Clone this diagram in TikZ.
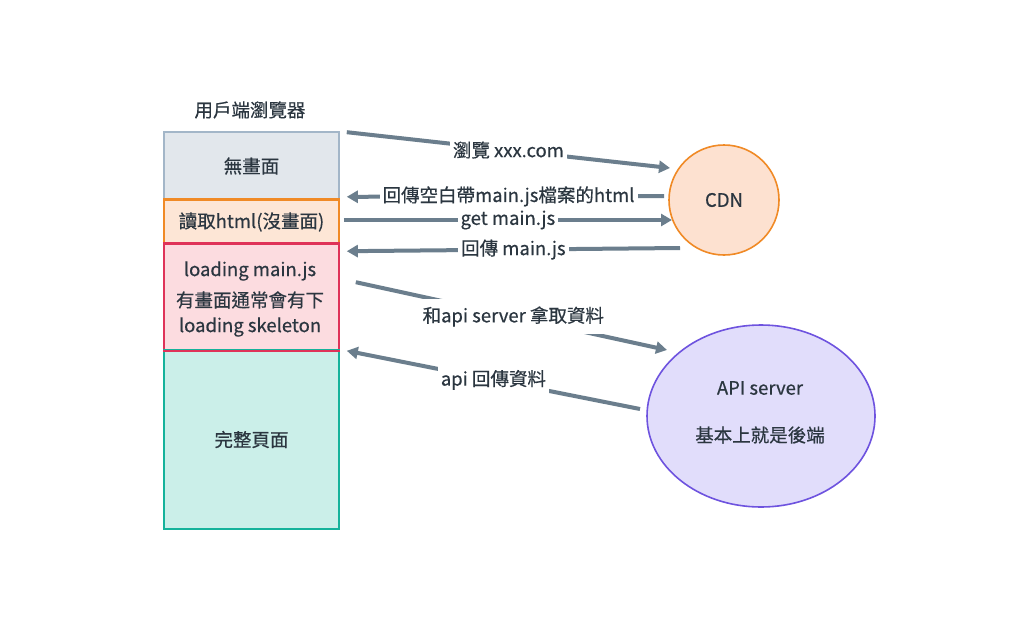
\documentclass[tikz,border=0pt]{standalone}
\usepackage{fontspec}
\setmainfont{Noto Sans CJK TC}[BoldFont={Noto Sans CJK TC},BoldFeatures={FakeBold=0.5}]
\usetikzlibrary{arrows.meta,calc,shapes.geometric}
\definecolor{txt}{HTML}{2B3640}
\definecolor{arrc}{HTML}{6B7E8D}
\definecolor{gfill}{HTML}{E2E7EC}
\definecolor{gline}{HTML}{A3B6C8}
\definecolor{ofill}{HTML}{FDE6D6}
\definecolor{oline}{HTML}{F08A26}
\definecolor{pfill}{HTML}{FCDCE0}
\definecolor{pline}{HTML}{DF3359}
\definecolor{tfill}{HTML}{CBEFE9}
\definecolor{tline}{HTML}{15B29B}
\definecolor{cfill}{HTML}{FDE1D0}
\definecolor{afill}{HTML}{E1DDFB}
\definecolor{aline}{HTML}{6E53DF}
\tikzset{
  box/.style={rectangle, line width=1.6pt, minimum width=175pt, inner sep=0pt, text=txt, align=center},
  arr/.style={line width=4pt, color=arrc, -{Triangle[length=11pt,width=12pt]}},
  lbl/.style={fill=white, text=txt, inner sep=3pt},
  every node/.append style={font=\fontsize{18.5}{22}\selectfont\bfseries}
}
\begin{document}
\begin{tikzpicture}[x=1pt,y=-1pt]
\useasboundingbox[fill=white] (0,0) rectangle (1024,640);
\node[text=txt] (title) at (250,110) {用戶端瀏覽器};
\node[box, draw=gline, fill=gfill, minimum height=68pt] (b1) at (251.5,166) {無畫面};
\node[box, draw=oline, fill=ofill, minimum height=44pt] (b2) at (251.5,222) {讀取html(沒畫面)};
\node[box, draw=pline, fill=pfill, minimum height=106pt] (b3) at (251.5,297) {};
\node[box, draw=tline, fill=tfill, minimum height=179pt] (b4) at (251.5,439.5) {完整頁面};
\draw[draw=oline, line width=1.6pt] (b2.north west) -- (b2.north east);
\draw[draw=pline, line width=1.6pt] (b3.north west) -- (b3.north east);
\draw[draw=pline, line width=1.6pt] (b3.south west) -- (b3.south east);
\node[text=txt] (l1) at (250,271) {loading main.js};
\node[text=txt] (l2) at (250,300) {有畫面通常會有下};
\node[text=txt] (l3) at (250,327) {loading skeleton};
\node[circle, draw=oline, fill=cfill, line width=1.6pt, minimum size=110pt, inner sep=0pt, text=txt] (cdn) at (724,200) {CDN};
\node[ellipse, draw=aline, fill=afill, line width=1.6pt, minimum width=228pt, minimum height=182pt, inner sep=0pt] (api) at (761,416) {};
\node[text=txt] (a1) at (760,388) {API server};
\node[text=txt] (a2) at (760,435) {基本上就是後端};
% connectors
\coordinate (p1s) at ($(b1.north east)+(7,1)$);
\coordinate (p1e) at ($(cdn.center)+(-54,-32)$);
\draw[arr] (p1s) -- node[lbl] (t1) {瀏覽 xxx.com} (p1e);
\coordinate (p2s) at ($(cdn.center)+(-60,-4)$);
\coordinate (p2e) at ($(b1.south east)+(7,-4)$);
\draw[arr] (p2s) -- node[lbl, pos=0.49] (t2) {回傳空白帶main.js檔案的html} (p2e);
\coordinate (p3s) at ($(b2.east)+(4,-2)$);
\coordinate (p3e) at ($(cdn.center)+(-52,20)$);
\draw[arr] (p3s) -- node[lbl] (t3) {get main.js} (p3e);
\coordinate (p4s) at ($(cdn.center)+(-44,48)$);
\coordinate (p4e) at ($(b3.north east)+(7,8)$);
\draw[arr] (p4s) -- node[lbl, pos=0.5] (t4) {回傳 main.js} (p4e);
\coordinate (p5s) at ($(b3.north east)+(16,39)$);
\coordinate (p5e) at ($(api.center)+(-94,-66)$);
\draw[arr] (p5s) -- node[lbl, pos=0.506, inner ysep=7pt] (t5) {和api server 拿取資料} (p5e);
\coordinate (p6s) at ($(api.center)+(-121,-7)$);
\coordinate (p6e) at ($(b3.south east)+(7,0)$);
\draw[arr] (p6s) -- node[lbl, pos=0.5, inner ysep=7pt] (t6) {api 回傳資料} (p6e);
\end{tikzpicture}
\end{document}
